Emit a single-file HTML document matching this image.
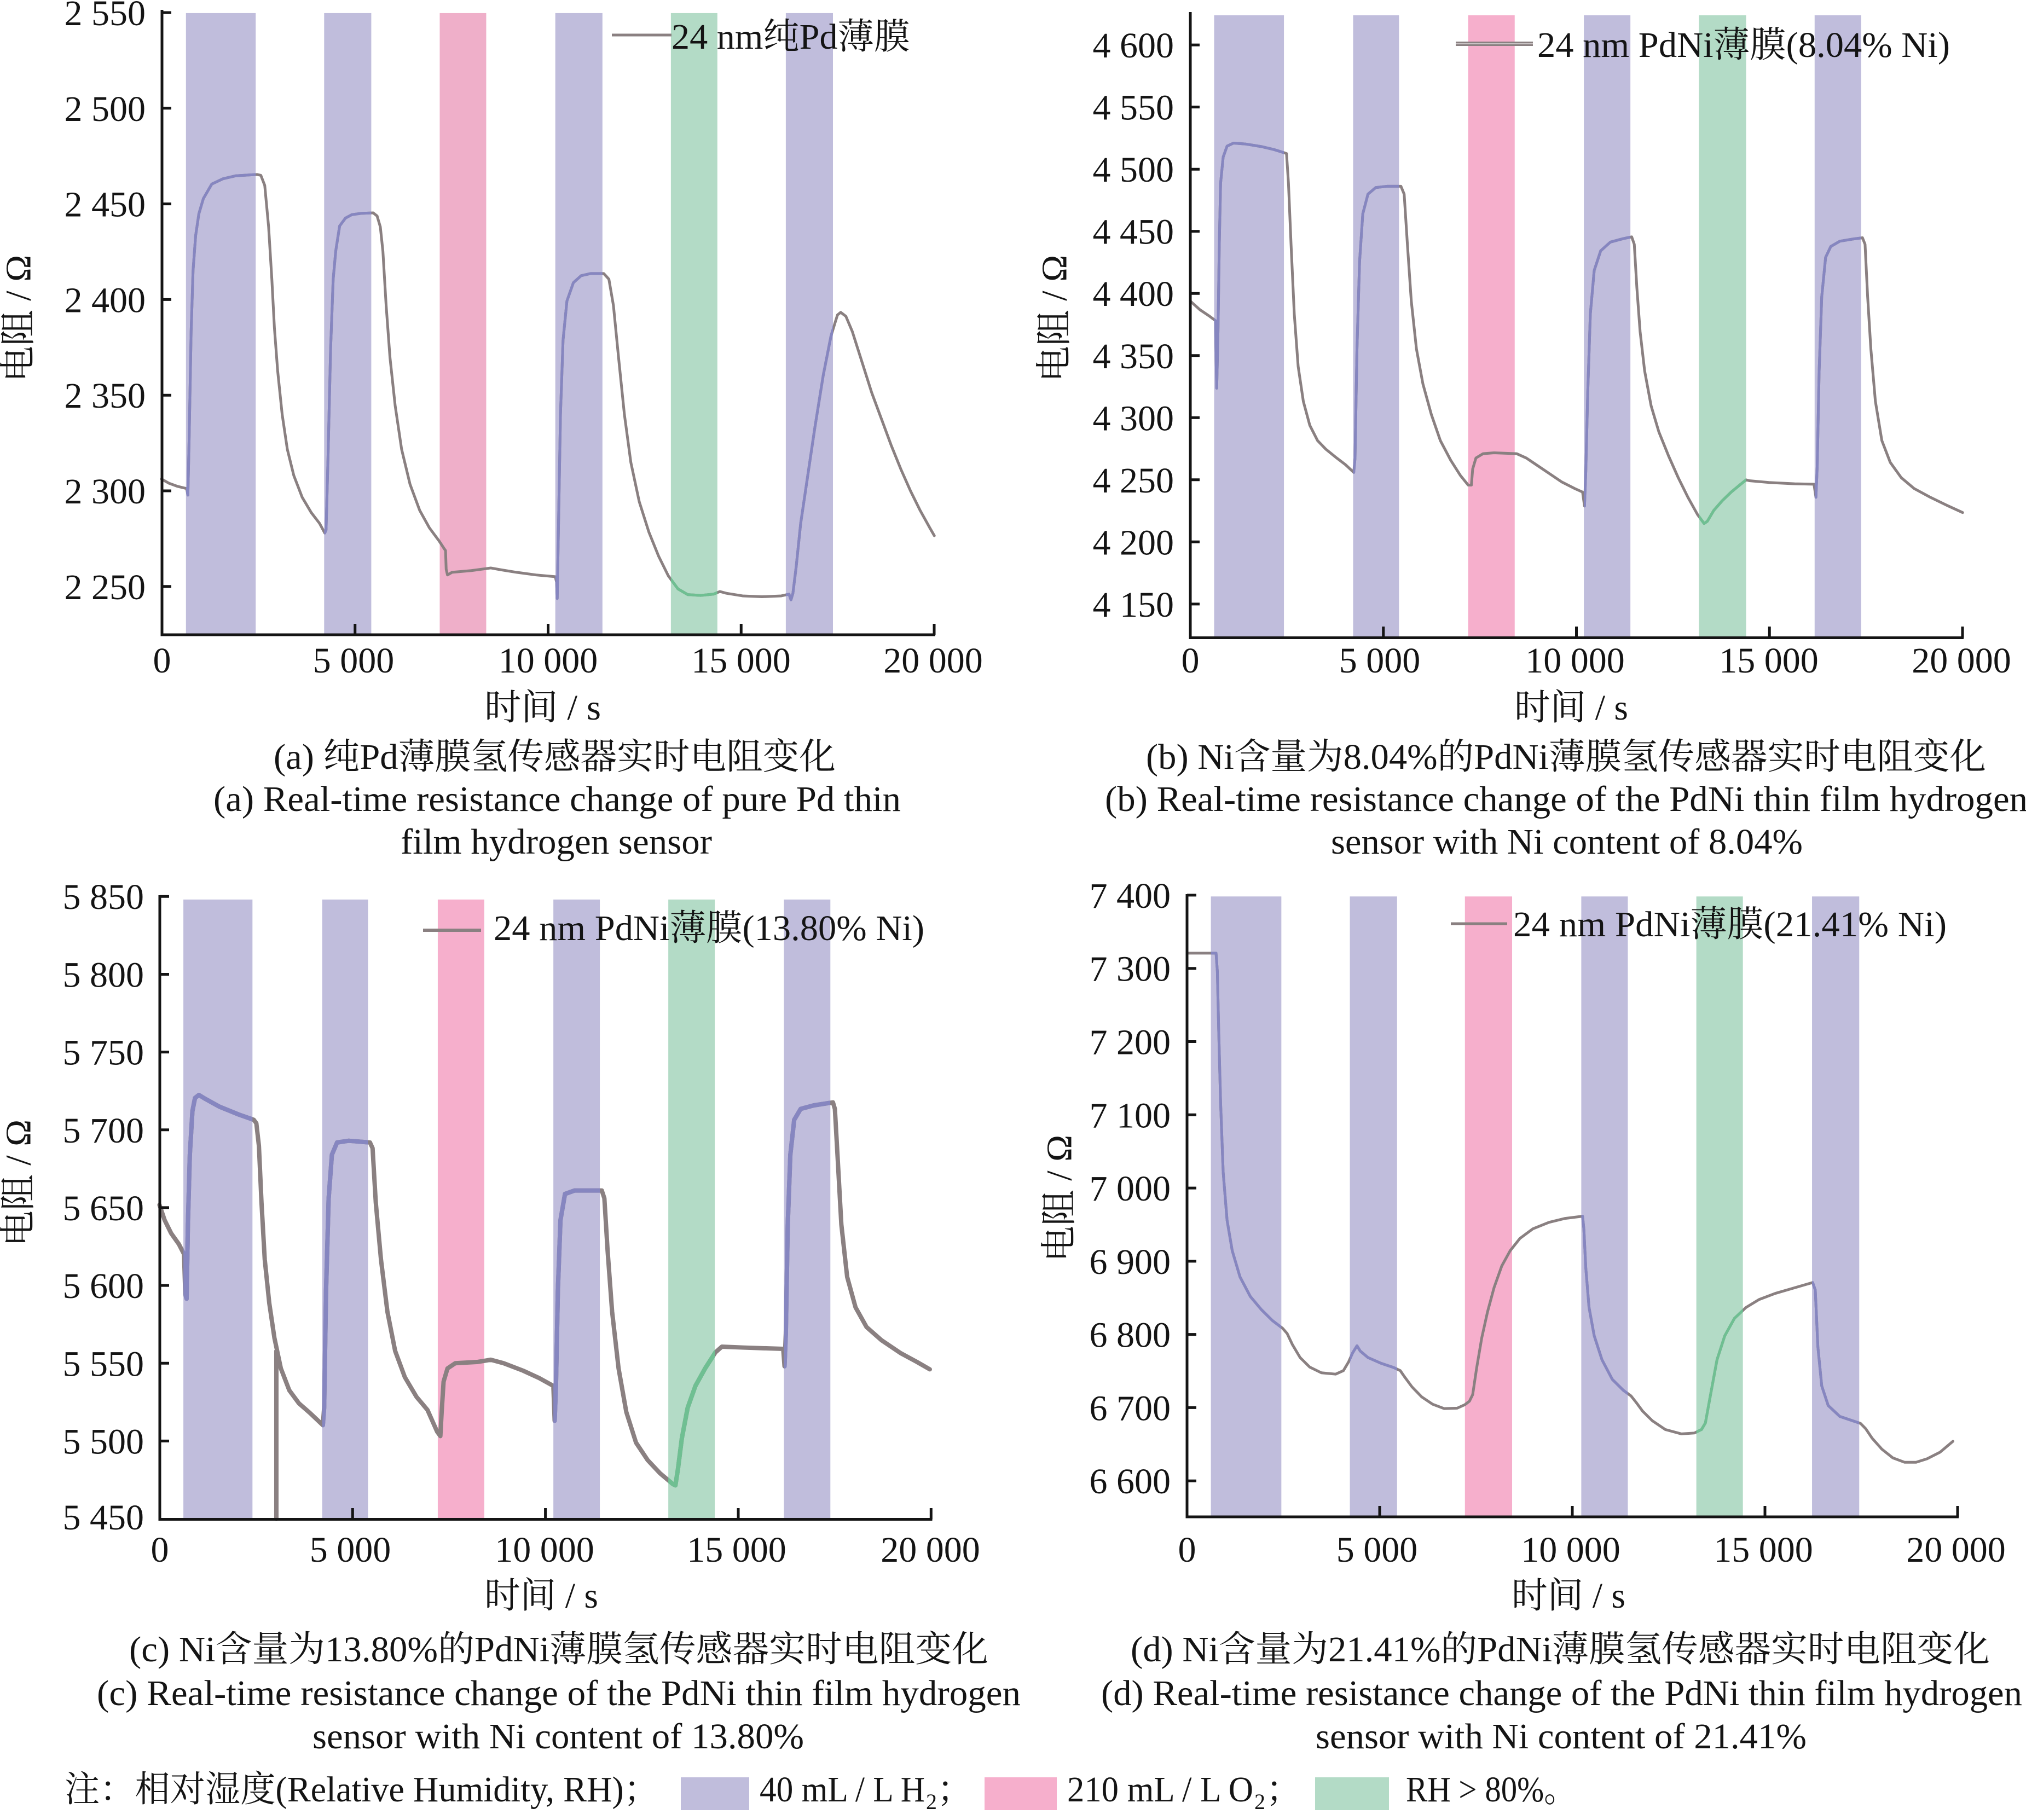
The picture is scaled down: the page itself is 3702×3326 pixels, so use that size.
<!DOCTYPE html>
<html><head><meta charset="utf-8">
<style>
html,body{margin:0;padding:0;background:#fff;width:3702px;height:3326px;overflow:hidden}
svg{display:block}
text{font-family:"Liberation Serif","Noto Serif CJK SC",serif;fill:#141414}
.t{font-size:66px}
.ln{fill:none;stroke:#8a8081;stroke-linejoin:round;stroke-linecap:round}
.ax{stroke:#141414;stroke-width:5;fill:none}
</style></head><body>
<svg xmlns="http://www.w3.org/2000/svg" xmlns:xlink="http://www.w3.org/1999/xlink" width="3702" height="3326" viewBox="0 0 3702 3326">
<defs>
<path id="ca" vector-effect="non-scaling-stroke" d="M250,1098 L262,1108 L275,1115 L289,1120 L291,1135 L293,1000 L296,760 L299,620 L303,540 L308,490 L315,455 L328,422 L345,410 L365,403 L398,400 L404,402 L410,425 L416,520 L421,640 L425,752 L430,850 L437,950 L445,1030 L455,1090 L468,1140 L482,1175 L495,1200 L503,1222 L505,1215 L508,1050 L512,800 L516,640 L520,575 L526,518 L535,500 L545,492 L560,489 L578,488 L584,495 L589,520 L593,576 L598,700 L604,820 L612,930 L622,1030 L635,1110 L650,1170 L665,1210 L680,1240 L688,1258 L690,1262 L691,1305 L693,1318 L700,1312 L730,1308 L760,1302 L775,1306 L800,1312 L830,1318 L860,1322 L862,1335 L863,1372 L865,1200 L868,950 L872,780 L878,690 L888,648 L900,632 L915,627 L935,627 L943,640 L950,700 L958,820 L967,950 L977,1060 L990,1150 L1005,1220 L1020,1275 L1035,1320 L1050,1350 L1065,1363 L1085,1365 L1105,1362 L1115,1356 L1125,1360 L1150,1366 L1180,1368 L1210,1366 L1222,1362 L1225,1375 L1228,1360 L1233,1300 L1240,1200 L1250,1100 L1262,980 L1275,860 L1287,770 L1297,722 L1302,716 L1310,725 L1320,760 L1335,830 L1350,900 L1365,960 L1380,1020 L1395,1075 L1410,1125 L1425,1170 L1440,1210 L1447,1228"/>
<path id="cb" vector-effect="non-scaling-stroke" d="M275,690 L290,710 L305,725 L314,735 L316,890 L318,760 L320,560 L322,420 L326,360 L332,335 L342,328 L360,330 L385,336 L405,343 L420,350 L424,352 L427,420 L431,560 L436,720 L442,840 L450,920 L460,975 L472,1010 L485,1030 L500,1048 L515,1065 L528,1083 L530,1050 L533,800 L537,600 L542,490 L550,445 L562,430 L580,427 L601,427 L606,445 L611,560 L617,690 L625,800 L635,880 L648,950 L662,1010 L678,1055 L693,1090 L705,1112 L710,1112 L712,1075 L717,1050 L728,1040 L745,1038 L780,1040 L795,1050 L810,1065 L830,1085 L850,1105 L870,1120 L882,1128 L885,1160 L887,1080 L890,900 L894,720 L900,620 L910,575 L925,555 L945,547 L958,543 L962,560 L966,660 L971,760 L978,850 L988,930 L1000,990 L1015,1045 L1030,1095 L1045,1140 L1060,1180 L1070,1200 L1075,1195 L1085,1170 L1098,1148 L1112,1128 L1125,1112 L1135,1100 L1140,1102 L1170,1106 L1210,1109 L1240,1110 L1243,1140 L1245,1070 L1248,850 L1252,680 L1258,590 L1266,565 L1280,553 L1300,548 L1315,545 L1319,560 L1323,680 L1328,800 L1335,920 L1345,1010 L1358,1060 L1375,1095 L1395,1120 L1420,1140 L1445,1158 L1470,1175"/>
<path id="cc" vector-effect="non-scaling-stroke" d="M247,755 L255,790 L265,820 L277,845 L285,868 L287,960 L289,970 L291,800 L294,640 L298,540 L302,510 L308,503 L318,512 L340,530 L370,548 L393,560 L397,568 L401,620 L405,750 L410,880 L417,980 L425,1060 L435,1130 L448,1180 L463,1210 L480,1232 L500,1260 L502,1220 L505,950 L509,740 L514,640 L522,612 L540,608 L573,612 L577,625 L582,750 L590,880 L600,1000 L612,1090 L627,1150 L645,1195 L662,1225 L677,1275 L682,1285 L684,1230 L687,1160 L693,1130 L705,1118 L740,1115 L760,1110 L780,1118 L810,1135 L835,1152 L857,1170 L859,1250 L861,1170 L864,950 L868,790 L875,730 L890,722 L932,722 L936,740 L941,860 L948,1000 L958,1130 L970,1230 L985,1300 L1003,1340 L1022,1370 L1042,1395 L1046,1398 L1050,1360 L1056,1290 L1065,1220 L1077,1170 L1092,1130 L1108,1093 L1118,1080 L1150,1082 L1190,1084 L1213,1085 L1215,1125 L1217,1050 L1220,800 L1224,640 L1230,560 L1240,535 L1260,527 L1290,520 L1293,535 L1297,640 L1303,800 L1312,920 L1325,990 L1342,1035 L1365,1065 L1395,1095 L1420,1115 L1440,1132 M428,1090 L428,1475"/>
<path id="cd" vector-effect="non-scaling-stroke" d="M270,178 L315,178 L317,220 L319,350 L322,520 L326,680 L332,790 L340,860 L352,920 L368,965 L385,995 L402,1020 L418,1038 L425,1050 L433,1075 L445,1105 L460,1127 L478,1140 L500,1143 L512,1135 L520,1115 L526,1095 L533,1078 L538,1090 L550,1105 L570,1118 L590,1128 L600,1135 L607,1150 L618,1172 L633,1195 L650,1212 L668,1222 L688,1221 L700,1213 L707,1205 L712,1190 L718,1130 L726,1060 L735,1000 L745,945 L757,895 L770,860 L785,832 L805,810 L830,795 L855,786 L882,781 L884,810 L887,900 L892,990 L900,1055 L912,1110 L928,1155 L945,1180 L957,1193 L965,1208 L975,1228 L990,1250 L1010,1270 L1035,1280 L1055,1278 L1066,1270 L1072,1255 L1080,1190 L1090,1110 L1102,1055 L1117,1015 L1135,990 L1155,972 L1180,958 L1210,945 L1238,933 L1242,950 L1246,1080 L1252,1170 L1262,1215 L1280,1240 L1300,1250 L1312,1256 L1320,1268 L1330,1290 L1345,1315 L1362,1335 L1380,1345 L1398,1345 L1415,1337 L1435,1322 L1455,1297"/>
<clipPath id="pa" clipPathUnits="userSpaceOnUse"><rect x="288" y="0" width="108" height="1568"/><rect x="502" y="0" width="73" height="1568"/><rect x="860" y="0" width="73" height="1568"/><rect x="1217" y="0" width="73" height="1568"/></clipPath>
<clipPath id="ga" clipPathUnits="userSpaceOnUse"><rect x="1039" y="0" width="72" height="1568"/></clipPath>
<clipPath id="pb" clipPathUnits="userSpaceOnUse"><rect x="312" y="0" width="108" height="1568"/><rect x="527" y="0" width="71" height="1568"/><rect x="884" y="0" width="72" height="1568"/><rect x="1241" y="0" width="72" height="1568"/></clipPath>
<clipPath id="gb" clipPathUnits="userSpaceOnUse"><rect x="1062" y="0" width="73" height="1568"/></clipPath>
<clipPath id="pc" clipPathUnits="userSpaceOnUse"><rect x="284" y="0" width="107" height="1568"/><rect x="499" y="0" width="71" height="1568"/><rect x="857" y="0" width="72" height="1568"/><rect x="1214" y="0" width="72" height="1568"/></clipPath>
<clipPath id="gc" clipPathUnits="userSpaceOnUse"><rect x="1035" y="0" width="72" height="1568"/></clipPath>
<clipPath id="pd" clipPathUnits="userSpaceOnUse"><rect x="307" y="0" width="109" height="1568"/><rect x="522" y="0" width="73" height="1568"/><rect x="880" y="0" width="72" height="1568"/><rect x="1237" y="0" width="73" height="1568"/></clipPath>
<clipPath id="gd" clipPathUnits="userSpaceOnUse"><rect x="1058" y="0" width="72" height="1568"/></clipPath>
</defs>

<!-- ============ Panel a ============ -->
<g transform="translate(0,0) scale(1.17985,0.79719)">
<g fill="#c0bddc"><rect x="288" y="30" width="108" height="1425"/><rect x="502" y="30" width="73" height="1425"/><rect x="860" y="30" width="73" height="1425"/><rect x="1217" y="30" width="73" height="1425"/></g>
<rect x="681" y="30" width="72" height="1425" fill="#efafc9"/>
<rect x="1039" y="30" width="72" height="1425" fill="#b3dbc6"/>
<use xlink:href="#ca" class="ln" stroke-width="5"/>
<use xlink:href="#ca" class="ln" stroke-width="5" style="stroke:#8686c0" clip-path="url(#pa)"/>
<use xlink:href="#ca" class="ln" stroke-width="5" style="stroke:#6fbf92" clip-path="url(#ga)"/>
</g>
<path class="ax" d="M296,18 V1162 M293.5,1160 H1709"/>
<path class="ax" d="M296,23 H313 M296,197.8 H313 M296,372.6 H313 M296,547.4 H313 M296,722.2 H313 M296,897 H313 M296,1071.8 H313 M648.75,1160 V1140 M1001.5,1160 V1140 M1354.25,1160 V1140 M1707,1160 V1140"/>
<g class="t" text-anchor="end">
<text x="266" y="46">2 550</text><text x="266" y="220.8">2 500</text><text x="266" y="395.6">2 450</text><text x="266" y="570.4">2 400</text><text x="266" y="745.2">2 350</text><text x="266" y="920">2 300</text><text x="266" y="1094.8">2 250</text>
</g>
<g class="t" text-anchor="middle">
<text x="296" y="1229">0</text><text x="646" y="1229">5 000</text><text x="1001.5" y="1229">10 000</text><text x="1354" y="1229">15 000</text><text x="1705" y="1229">20 000</text>
</g>
<text class="t" text-anchor="middle" transform="translate(34,582) rotate(-90)" dominant-baseline="central">电阻 / Ω</text>
<line x1="1118" y1="64" x2="1227" y2="64" stroke="#8a8081" stroke-width="5"/>
<text class="t" x="1227" y="89" textLength="436" lengthAdjust="spacingAndGlyphs">24 nm纯Pd薄膜</text>
<text class="t" x="885" y="1315" textLength="213" lengthAdjust="spacingAndGlyphs">时间 / s</text>
<text class="t" x="500" y="1405" textLength="1027" lengthAdjust="spacingAndGlyphs">(a) 纯Pd薄膜氢传感器实时电阻变化</text>
<text class="t" x="390" y="1482" textLength="1256" lengthAdjust="spacingAndGlyphs">(a) Real-time resistance change of pure Pd thin</text>
<text class="t" x="732" y="1560" textLength="569" lengthAdjust="spacingAndGlyphs">film hydrogen sensor</text>

<!-- ============ Panel b ============ -->
<g transform="translate(1850,0) scale(1.18112,0.79719)">
<g fill="#c0bddc"><rect x="312" y="35" width="108" height="1427"/><rect x="527" y="35" width="71" height="1427"/><rect x="884" y="35" width="72" height="1427"/><rect x="1241" y="35" width="72" height="1427"/></g>
<rect x="705" y="35" width="72" height="1427" fill="#f6afcc"/>
<rect x="1062" y="35" width="73" height="1427" fill="#b3dbc6"/>
<use xlink:href="#cb" class="ln" stroke-width="5"/>
<use xlink:href="#cb" class="ln" stroke-width="5" style="stroke:#8686c0" clip-path="url(#pb)"/>
<use xlink:href="#cb" class="ln" stroke-width="5" style="stroke:#6fbf92" clip-path="url(#gb)"/>
</g>
<path class="ax" d="M2175,22 V1168 M2172.5,1165.5 H3588"/>
<path class="ax" d="M2175,82.1 H2192 M2175,195.6 H2192 M2175,309.2 H2192 M2175,422.7 H2192 M2175,536.2 H2192 M2175,649.8 H2192 M2175,763.3 H2192 M2175,876.8 H2192 M2175,990.3 H2192 M2175,1103.9 H2192 M2527.75,1165.5 V1145 M2880.5,1165.5 V1145 M3233.25,1165.5 V1145 M3586,1165.5 V1145"/>
<g class="t" text-anchor="end">
<text x="2145" y="105">4 600</text><text x="2145" y="218.6">4 550</text><text x="2145" y="332.2">4 500</text><text x="2145" y="445.7">4 450</text><text x="2145" y="559.2">4 400</text><text x="2145" y="672.8">4 350</text><text x="2145" y="786.3">4 300</text><text x="2145" y="899.8">4 250</text><text x="2145" y="1013.3">4 200</text><text x="2145" y="1126.9">4 150</text>
</g>
<g class="t" text-anchor="middle">
<text x="2175" y="1229">0</text><text x="2521" y="1229">5 000</text><text x="2878" y="1229">10 000</text><text x="3232" y="1229">15 000</text><text x="3584" y="1229">20 000</text>
</g>
<text class="t" text-anchor="middle" transform="translate(1927,582) rotate(-90)" dominant-baseline="central">电阻 / Ω</text>
<line x1="2660" y1="80" x2="2801" y2="80" stroke="#8a8081" stroke-width="8"/>
<line x1="2660" y1="80" x2="2801" y2="80" stroke="#c9c3c4" stroke-width="2"/>
<text class="t" x="2809" y="104" textLength="754" lengthAdjust="spacingAndGlyphs">24 nm PdNi薄膜(8.04% Ni)</text>
<text class="t" x="2767" y="1315" textLength="208" lengthAdjust="spacingAndGlyphs">时间 / s</text>
<text class="t" x="2094" y="1405" textLength="1535" lengthAdjust="spacingAndGlyphs">(b) Ni含量为8.04%的PdNi薄膜氢传感器实时电阻变化</text>
<text class="t" x="2019" y="1482" textLength="1686" lengthAdjust="spacingAndGlyphs">(b) Real-time resistance change of the PdNi thin film hydrogen</text>
<text class="t" x="2432" y="1560" textLength="862" lengthAdjust="spacingAndGlyphs">sensor with Ni content of 8.04%</text>

<!-- ============ Panel c ============ -->
<g transform="translate(0,1600) scale(1.17985,0.79719)">
<g fill="#c0bddc"><rect x="284" y="55" width="107" height="1420"/><rect x="499" y="55" width="71" height="1420"/><rect x="857" y="55" width="72" height="1420"/><rect x="1214" y="55" width="72" height="1420"/></g>
<rect x="678" y="55" width="72" height="1420" fill="#f6afcc"/>
<rect x="1035" y="55" width="72" height="1420" fill="#b3dbc6"/>
<use xlink:href="#cc" class="ln" stroke-width="8"/>
<use xlink:href="#cc" class="ln" stroke-width="8" style="stroke:#8686c0" clip-path="url(#pc)"/>
<use xlink:href="#cc" class="ln" stroke-width="8" style="stroke:#6fbf92" clip-path="url(#gc)"/>
</g>
<path class="ax" d="M292,1636 V2779 M289.5,2776.5 H1703.5"/>
<path class="ax" d="M292,1638.3 H309 M292,1780.5 H309 M292,1922.6 H309 M292,2064.8 H309 M292,2206.9 H309 M292,2349.1 H309 M292,2491.3 H309 M292,2633.4 H309 M644.3,2776.5 V2756 M996.6,2776.5 V2756 M1349,2776.5 V2756 M1701.3,2776.5 V2756"/>
<g class="t" text-anchor="end">
<text x="263" y="1661">5 850</text><text x="263" y="1803.5">5 800</text><text x="263" y="1945.6">5 750</text><text x="263" y="2087.8">5 700</text><text x="263" y="2229.9">5 650</text><text x="263" y="2372.1">5 600</text><text x="263" y="2514.3">5 550</text><text x="263" y="2656.4">5 500</text><text x="263" y="2795">5 450</text>
</g>
<g class="t" text-anchor="middle">
<text x="292" y="2854">0</text><text x="640" y="2854">5 000</text><text x="995" y="2854">10 000</text><text x="1346" y="2854">15 000</text><text x="1700" y="2854">20 000</text>
</g>
<text class="t" text-anchor="middle" transform="translate(34,2162) rotate(-90)" dominant-baseline="central">电阻 / Ω</text>
<line x1="773" y1="1700" x2="879" y2="1700" stroke="#8a8081" stroke-width="6"/>
<text class="t" x="902" y="1718" textLength="787" lengthAdjust="spacingAndGlyphs">24 nm PdNi薄膜(13.80% Ni)</text>
<text class="t" x="885" y="2938" textLength="208" lengthAdjust="spacingAndGlyphs">时间 / s</text>
<text class="t" x="236" y="3036" textLength="1570" lengthAdjust="spacingAndGlyphs">(c) Ni含量为13.80%的PdNi薄膜氢传感器实时电阻变化</text>
<text class="t" x="177" y="3116" textLength="1688" lengthAdjust="spacingAndGlyphs">(c) Real-time resistance change of the PdNi thin film hydrogen</text>
<text class="t" x="571" y="3195" textLength="898" lengthAdjust="spacingAndGlyphs">sensor with Ni content of 13.80%</text>

<!-- ============ Panel d ============ -->
<g transform="translate(1850,1600) scale(1.18112,0.79719)">
<g fill="#c0bddc"><rect x="307" y="48" width="109" height="1422"/><rect x="522" y="48" width="73" height="1422"/><rect x="880" y="48" width="72" height="1422"/><rect x="1237" y="48" width="73" height="1422"/></g>
<rect x="700" y="48" width="73" height="1422" fill="#f6afcc"/>
<rect x="1058" y="48" width="72" height="1422" fill="#b3dbc6"/>
<use xlink:href="#cd" class="ln" stroke-width="5"/>
<use xlink:href="#cd" class="ln" stroke-width="5" style="stroke:#8686c0" clip-path="url(#pd)"/>
<use xlink:href="#cd" class="ln" stroke-width="5" style="stroke:#6fbf92" clip-path="url(#gd)"/>
</g>
<path class="ax" d="M2169,1634 V2774.5 M2166.5,2772 H3579"/>
<path class="ax" d="M2169,1635.9 H2186 M2169,1769.7 H2186 M2169,1903.5 H2186 M2169,2037.3 H2186 M2169,2171.1 H2186 M2169,2304.9 H2186 M2169,2438.6 H2186 M2169,2572.4 H2186 M2169,2706.2 H2186 M2521,2772 V2752 M2873,2772 V2752 M3225,2772 V2752 M3577,2772 V2752"/>
<g class="t" text-anchor="end">
<text x="2139" y="1659">7 400</text><text x="2139" y="1792.7">7 300</text><text x="2139" y="1926.5">7 200</text><text x="2139" y="2060.3">7 100</text><text x="2139" y="2194.1">7 000</text><text x="2139" y="2327.9">6 900</text><text x="2139" y="2461.6">6 800</text><text x="2139" y="2595.4">6 700</text><text x="2139" y="2729.2">6 600</text>
</g>
<g class="t" text-anchor="middle">
<text x="2169" y="2854">0</text><text x="2516" y="2854">5 000</text><text x="2870" y="2854">10 000</text><text x="3222" y="2854">15 000</text><text x="3574" y="2854">20 000</text>
</g>
<text class="t" text-anchor="middle" transform="translate(1936,2190) rotate(-90)" dominant-baseline="central">电阻 / Ω</text>
<line x1="2651" y1="1688" x2="2754" y2="1688" stroke="#8a8081" stroke-width="5"/>
<text class="t" x="2765" y="1711" textLength="792" lengthAdjust="spacingAndGlyphs">24 nm PdNi薄膜(21.41% Ni)</text>
<text class="t" x="2762" y="2938" textLength="208" lengthAdjust="spacingAndGlyphs">时间 / s</text>
<text class="t" x="2066" y="3036" textLength="1570" lengthAdjust="spacingAndGlyphs">(d) Ni含量为21.41%的PdNi薄膜氢传感器实时电阻变化</text>
<text class="t" x="2012" y="3116" textLength="1683" lengthAdjust="spacingAndGlyphs">(d) Real-time resistance change of the PdNi thin film hydrogen</text>
<text class="t" x="2404" y="3195" textLength="897" lengthAdjust="spacingAndGlyphs">sensor with Ni content of 21.41%</text>

<!-- ============ Footnote ============ -->
<text class="t" x="118" y="3292" textLength="1086" lengthAdjust="spacingAndGlyphs">注：相对湿度(Relative Humidity, RH)；</text>
<rect x="1244" y="3248" width="125" height="60" fill="#c0bddc"/>
<text class="t" x="1388" y="3292" textLength="302" lengthAdjust="spacingAndGlyphs">40 mL / L H</text>
<text x="1692" y="3306" font-size="40">2</text>
<text class="t" x="1712" y="3292">；</text>
<rect x="1799" y="3248" width="132" height="60" fill="#f6afcc"/>
<text class="t" x="1950" y="3292" textLength="340" lengthAdjust="spacingAndGlyphs">210 mL / L O</text>
<text x="2292" y="3306" font-size="40">2</text>
<text class="t" x="2313" y="3292">；</text>
<rect x="2403" y="3248" width="135" height="60" fill="#b3dbc6"/>
<text class="t" x="2569" y="3292" textLength="311" lengthAdjust="spacingAndGlyphs">RH &gt; 80%。</text>
</svg>
</body></html>
